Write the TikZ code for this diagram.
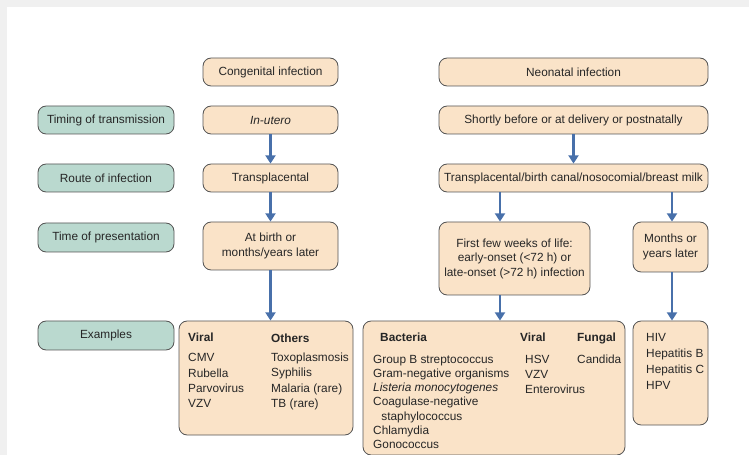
\documentclass[tikz,border=0pt]{standalone}
\usepackage{fontspec}
\setmainfont{Liberation Sans}
\usetikzlibrary{arrows.meta}

\definecolor{peach}{RGB}{250,227,200}
\definecolor{tealbox}{RGB}{186,217,207}
\definecolor{flowblue}{RGB}{72,112,170}
\definecolor{edgegray}{RGB}{85,85,85}
\definecolor{margingray}{RGB}{240,240,240}

\newcommand{\collist}[1]{\begin{tabular}[t]{@{}l@{}}#1\end{tabular}}

\begin{document}
\begin{tikzpicture}[x=0.03cm, y=-0.03cm,
    every node/.style={font=\fontsize{10.1}{12.4}\selectfont, text=black!85},
    boxsize/.style 2 args={minimum width=#1*0.03cm, minimum height=#2*0.03cm},
    infbox/.style={draw=edgegray, line width=0.7pt, rounded corners=7pt, fill=peach, inner sep=0pt, align=center},
    rowlabel/.style={infbox, fill=tealbox},
    listtext/.style={anchor=base west, inner sep=0pt},
    flow/.style={flowblue, line width=2.4pt, -{Triangle[width=8.5pt,length=7pt]}}]
        \useasboundingbox (0,0) rectangle (749,455);
        % page margin
        \fill[margingray] (0,0) rectangle (749,7);
        \fill[margingray] (0,0) rectangle (7,455);

        % Row labels
        \node[rowlabel, boxsize={136}{28}] (timing) at (106,120) {Timing of transmission};
        \node[rowlabel, boxsize={136}{28}] (route) at (106,178) {Route of infection};
        \node[rowlabel, boxsize={136}{29}] (present) at (106,237.5) {Time of presentation};
        \node[rowlabel, boxsize={136}{29}] (examples) at (106,335.5) {Examples};

        % Congenital column
        \node[infbox, boxsize={135}{28}] (cong) at (270.5,72) {Congenital infection};
        \node[infbox, boxsize={135}{28}] (utero) at (270.5,120) {\textit{In-utero}};
        \node[infbox, boxsize={135}{28}] (transp) at (270.5,178) {Transplacental};
        \node[infbox, boxsize={135}{48}] (birth) at (270.5,246) {At birth or\\months/years later};
        \node[infbox, boxsize={174}{114}] (congex) at (266,378) {};
        \node[listtext, font=\fontsize{10.1}{13}\selectfont] (congviral) at (188,342) {\collist{\textbf{Viral}\\[4pt]CMV\\Rubella\\Parvovirus\\VZV}};
        \node[listtext, font=\fontsize{10.1}{13}\selectfont] (congother) at (271,343) {\collist{\textbf{Others}\\[3pt]Toxoplasmosis\\Syphilis\\Malaria (rare)\\TB (rare)}};

        % Neonatal column
        \node[infbox, boxsize={269}{28}] (neo) at (573.5,72) {Neonatal infection};
        \node[infbox, boxsize={269}{28}] (shortly) at (573.5,120) {Shortly before or at delivery or postnatally};
        \node[infbox, boxsize={269}{28}] (neoroute) at (573.5,178) {Transplacental/birth canal/nosocomial/breast milk};
        \node[infbox, boxsize={151}{73}] (early) at (514.5,258.5) {First few weeks of life:\\early-onset (<72 h) or\\late-onset (>72 h) infection};
        \node[infbox, boxsize={75}{50}] (later) at (670.5,247) {Months or\\years later};
        \node[infbox, boxsize={262}{134}] (neoex) at (494,388) {};
        \node[listtext] (bacthead) at (380,342) {\textbf{Bacteria}};
        \node[listtext, font=\fontsize{10.1}{12.2}\selectfont] (bact) at (373,363) {\collist{Group B streptococcus\\Gram-negative organisms\\\textit{Listeria monocytogenes}\\Coagulase-negative\\\hspace{7pt}staphylococcus\\Chlamydia\\Gonococcus}};
        \node[listtext] (neoviral) at (520,342) {\textbf{Viral}};
        \node[listtext, font=\fontsize{10.1}{13}\selectfont] (neoviralist) at (525,363) {\collist{HSV\\VZV\\Enterovirus}};
        \node[listtext] (fungal) at (577,342) {\textbf{Fungal}};
        \node[listtext] (candida) at (577,363) {Candida};
        \node[infbox, boxsize={75}{104}] (lateex) at (670.5,373) {};
        \node[listtext, font=\fontsize{10.1}{13.7}\selectfont] (latelist) at (646,341) {\collist{HIV\\Hepatitis B\\Hepatitis C\\HPV}};

        % Arrows
        \draw[flow] (utero) -- (transp);
        \draw[flow] (transp) -- (birth);
        \draw[flow] (birth) -- (birth.south |- congex.north);
        \draw[flow] (shortly) -- (neoroute);
        \draw[flow] (neoroute.south -| 500,0) -- (early.north -| 500,0);
        \draw[flow] (early.south -| 500,0) -- (neoex.north -| 500,0);
        \draw[flow] (neoroute.south -| 672,0) -- (later.north -| 672,0);
        \draw[flow] (later.south -| 672,0) -- (lateex.north -| 672,0);
    \end{tikzpicture}
\end{document}
